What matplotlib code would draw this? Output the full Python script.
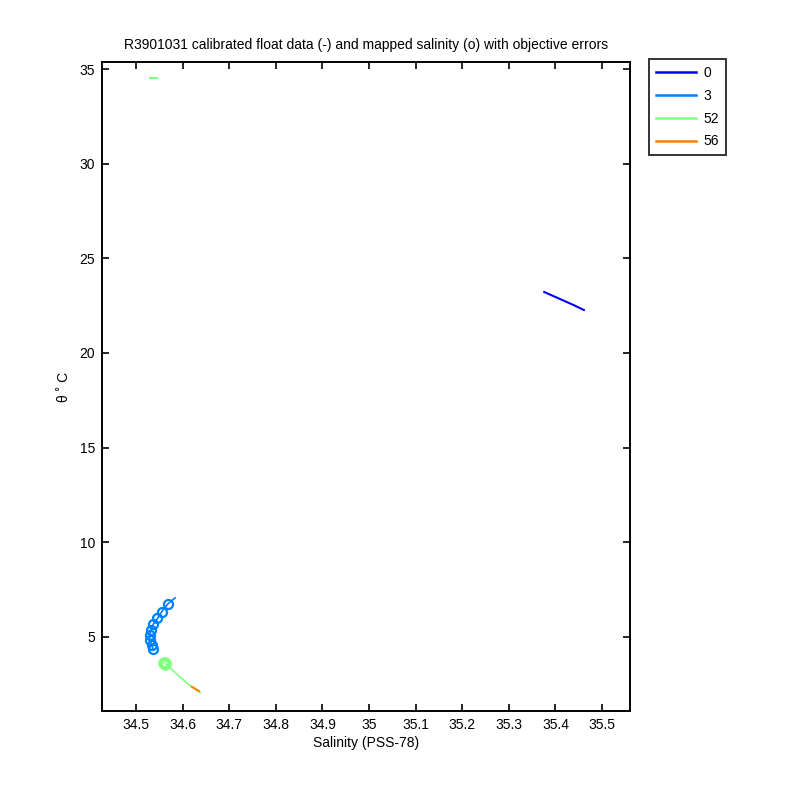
import matplotlib
matplotlib.use("Agg")
import matplotlib.pyplot as plt

plt.rcParams['font.family'] = ['Liberation Sans', 'DejaVu Sans']

title = "R3901031 calibrated float data (-) and mapped salinity (o) with objective errors"
xlabel = "Salinity (PSS-78)"
ylabel = "θ ˚ C"

labels = ["0", "3", "52", "56"]
colors = ["#0000ff", "#0080ff", "#80ff80", "#ff8000"]

# profile 0
sal_0 = [35.376, 35.398, 35.420, 35.441, 35.461]
th_0 = [23.22, 22.98, 22.74, 22.51, 22.27]

# profile 3
sal_3 = [34.584, 34.568, 34.555, 34.546, 34.537, 34.532, 34.529, 34.530, 34.534, 34.537]
th_3 = [7.07, 6.74, 6.33, 5.98, 5.68, 5.36, 5.10, 4.83, 4.57, 4.33]
map_sal_3 = [34.568, 34.555, 34.546, 34.537, 34.532, 34.529, 34.530, 34.534, 34.537]
map_th_3 = [6.74, 6.33, 5.98, 5.68, 5.36, 5.10, 4.83, 4.57, 4.36]

# profile 52
sal_52a = [34.530, 34.545]
th_52a = [34.51, 34.51]
sal_52 = [34.562, 34.585, 34.610, 34.638]
th_52 = [3.61, 3.10, 2.55, 2.06]
map_sal_52 = [34.561, 34.563, 34.562]
map_th_52 = [3.63, 3.59, 3.61]

# profile 56
sal_56 = [34.620, 34.635]
th_56 = [2.37, 2.14]

fig = plt.figure(figsize=(8, 8), dpi=100)
ax = fig.add_axes([0.1275, 0.11125, 0.66, 0.81125])

h0, = ax.plot(sal_0, th_0, '-', color=colors[0], lw=1.5)
h3, = ax.plot(sal_3, th_3, '-', color=colors[1], lw=1.2)
ax.plot(map_sal_3, map_th_3, 'o', color=colors[1], mfc='none', ms=6.5, mew=1.6)
h52, = ax.plot(sal_52, th_52, '-', color=colors[2], lw=1.2)
ax.plot(sal_52a, th_52a, '-', color=colors[2], lw=1.5)
ax.plot(map_sal_52, map_th_52, 'o', color=colors[2], mfc='none', ms=6.5, mew=2.5)
h56, = ax.plot(sal_56, th_56, '-', color=colors[3], lw=1.5)

ax.set_xlim(34.427, 35.56)
ax.set_ylim(1.09, 35.37)
ax.set_xticks([34.5, 34.6, 34.7, 34.8, 34.9, 35, 35.1, 35.2, 35.3, 35.4, 35.5])
ax.set_xticklabels(["34.5", "34.6", "34.7", "34.8", "34.9", "35", "35.1", "35.2", "35.3", "35.4", "35.5"])
ax.set_yticks([5, 10, 15, 20, 25, 30, 35])
ax.tick_params(direction='in', length=5, width=1.2, top=True, right=True, labelsize=10, pad=5)
for s in ax.spines.values():
    s.set_linewidth(1.4)

ax.set_title(title, fontsize=10, pad=9)
ax.set_xlabel(xlabel, fontsize=10, labelpad=3)
ax.set_ylabel(ylabel, fontsize=10, labelpad=6)

leg = fig.legend([h0, h3, h52, h56], labels, loc='upper left',
                 bbox_to_anchor=(0.811, 0.926), fancybox=False, fontsize=10,
                 handlelength=2.9, labelspacing=0.63, borderpad=0.5,
                 handletextpad=0.55, borderaxespad=0)
leg.get_frame().set_edgecolor('black')
leg.get_frame().set_linewidth(1.4)
for l in leg.get_lines():
    l.set_linewidth(1.8)

fig.savefig("out.png", dpi=100)
